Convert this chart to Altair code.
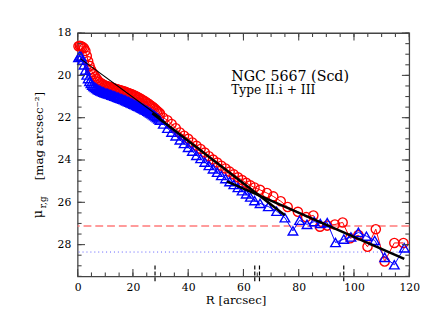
import altair as alt
import pandas as pd

FONT = "DejaVu Serif"
FRAME = "#444444"

# ---------------- data ----------------
inner_R = [0.3, 0.8, 1.3, 1.8, 2.3, 2.8, 3.3, 3.8, 4.3, 4.8, 5.3, 5.8, 6.3, 6.8, 7.3, 7.8, 8.3, 8.8, 9.3, 9.8,
           10.3, 10.8, 11.3, 11.8, 12.3, 12.8, 13.3, 13.8, 14.3, 14.8, 15.3, 15.8, 16.3, 16.8, 17.3, 17.8, 18.3, 18.8, 19.3, 19.8,
           20.3, 20.8, 21.3, 21.8, 22.3, 22.8, 23.3, 23.8, 24.3, 24.8, 25.3, 25.8, 26.3, 26.8, 27.3, 27.8, 28.3, 28.8, 29.3, 29.8,
           31, 32.5, 34, 35.5, 37, 38.5, 40, 41.5, 43, 44.5, 46, 47.5, 49, 50.5, 52, 53.5, 55, 56.5, 58, 59.5, 61, 62.5, 64]

red_R = inner_R + [66, 68.5, 70.8, 73.5, 76, 79.7, 82.7, 85.3, 87.7, 90.3, 93.1, 95.9, 98.6, 101.6, 104.9, 107.9, 111.1, 114.6, 117.9]
red_mu = [18.62, 18.60, 18.62, 18.66, 18.72, 18.85, 19.08, 19.33, 19.55, 19.72, 19.85, 19.95, 20.05, 20.15, 20.24, 20.31, 20.36, 20.40, 20.44, 20.47,
          20.50, 20.52, 20.54, 20.56, 20.58, 20.60, 20.62, 20.64, 20.66, 20.68, 20.70, 20.72, 20.74, 20.76, 20.78, 20.81, 20.83, 20.86, 20.88, 20.91,
          20.94, 20.97, 21.00, 21.04, 21.07, 21.11, 21.15, 21.19, 21.23, 21.27, 21.32, 21.36, 21.41, 21.46, 21.51, 21.56, 21.62, 21.68, 21.74, 21.80,
          22.00, 22.12, 22.30, 22.50, 22.70, 22.85, 23.00, 23.17, 23.33, 23.48, 23.65, 23.82, 23.98, 24.12, 24.27, 24.40, 24.55, 24.68, 24.82, 24.95, 25.08, 25.20, 25.30,
          25.41, 25.56, 25.72, 25.95, 26.22, 26.45, 26.70, 26.62, 27.15, 27.10, 27.05, 26.95, 27.70, 27.55, 28.10, 27.27, 28.80, 27.92, 27.92]

blue_R = inner_R + [66, 69, 72, 75, 77.9, 80.3, 83, 85.6, 87.8, 90.3, 93.3, 96.3, 98.9, 101.6, 104.5, 107.5, 111.1, 114.6, 118.2]
blue_mu = [19.15, 19.08, 19.12, 19.28, 19.50, 19.75, 19.98, 20.15, 20.28, 20.38, 20.46, 20.52, 20.57, 20.62, 20.66, 20.70, 20.73, 20.76, 20.79, 20.82,
           20.84, 20.86, 20.88, 20.90, 20.93, 20.95, 20.98, 21.00, 21.03, 21.05, 21.08, 21.10, 21.13, 21.15, 21.18, 21.21, 21.24, 21.27, 21.30, 21.33,
           21.36, 21.39, 21.42, 21.45, 21.48, 21.51, 21.55, 21.58, 21.62, 21.65, 21.69, 21.73, 21.77, 21.81, 21.86, 21.90, 21.95, 22.00, 22.06, 22.12,
           22.30, 22.50, 22.68, 22.86, 23.05, 23.22, 23.40, 23.58, 23.78, 23.93, 24.10, 24.26, 24.42, 24.58, 24.73, 24.88, 25.02, 25.16, 25.30, 25.45, 25.60, 25.75, 25.92,
           26.05, 26.20, 26.42, 26.73, 27.35, 26.85, 27.04, 26.91, 27.00, 26.96, 27.90, 27.74, 27.64, 27.42, 27.60, 27.80, 28.60, 28.95, 28.15]

# disc fits (start / end of each segment)
fit_seg = ["inner", "middle", "outer"]
fit_R0 = [0.96, 27.0, 54.0]
fit_R1 = [30.0, 75.0, 118.2]
fit_mu0 = [19.21, 21.79, 25.01]
fit_mu1 = [21.99, 26.61, 28.67]

break_R = [28.0, 64.1, 65.8, 96.3]       # break radii marked at the bottom
sky_red = [27.12]                          # dashed limit
sky_blue = [28.35]                         # dotted limit

x_labels = [0, 20, 40, 60, 80, 100, 120]
y_labels = [18, 20, 22, 24, 26, 28]
x_major = [0, 20, 40, 60, 80, 100, 120]
x_minor = [5 * i for i in range(25)]
y_major = [18, 20, 22, 24, 26, 28]
y_minor = [18 + 0.5 * i for i in range(24)]

title_main = "NGC 5667 (Scd)"
title_type = "Type II.i + III"
x_title = "R [arcsec]"
y_title = "[mag arcsec\u207b\u00b2]"

# ---------------- chart ----------------
W, H = 338, 248
xs = alt.Scale(domain=[0, 120], nice=False, zero=False)
ys = alt.Scale(domain=[18, 29.5], reverse=True, nice=False, zero=False)
xaxis = alt.Axis(values=x_labels, ticks=False, domain=False, grid=False, title=None,
                 labelPadding=5, labelFontSize=11, labelFont=FONT, labelColor="black",
                 labelFlush=False, labelOverlap=False, format="d")
yaxis = alt.Axis(values=y_labels, ticks=False, domain=False, grid=False, title=None,
                 labelPadding=7, labelFontSize=11, labelFont=FONT, labelColor="black",
                 labelFlush=False, labelOverlap=False, format="d")
X = alt.X("R:Q", scale=xs, axis=xaxis)
Y = alt.Y("mu:Q", scale=ys, axis=yaxis)

df_red = pd.DataFrame({"R": red_R, "mu": red_mu})
df_blue = pd.DataFrame({"R": blue_R, "mu": blue_mu})

rows = []
for s, r0, r1, m0, m1 in zip(fit_seg, fit_R0, fit_R1, fit_mu0, fit_mu1):
    rows.append({"seg": s, "R": r0, "mu": m0})
    rows.append({"seg": s, "R": r1, "mu": m1})
df_fit = pd.DataFrame(rows)

layers = []
# sky limits
layers.append(alt.Chart(pd.DataFrame({"mu": sky_red})).mark_rule(
    color="#ff7b7b", strokeWidth=1.3, strokeDash=[8, 4]).encode(y=Y))
layers.append(alt.Chart(pd.DataFrame({"mu": sky_blue})).mark_rule(
    color="#5a5aff", strokeWidth=1, strokeDash=[1, 3]).encode(y=Y))

# red profile
layers.append(alt.Chart(df_red).mark_line(color="#ff0000", strokeWidth=1).encode(x=X, y=Y))
layers.append(alt.Chart(df_red).mark_point(shape="circle", filled=False, color="#ff0000",
                                           size=88, strokeWidth=1.4, opacity=1).encode(x=X, y=Y))
# blue profile
layers.append(alt.Chart(df_blue).mark_line(color="#0000ff", strokeWidth=1).encode(x=X, y=Y))
layers.append(alt.Chart(df_blue).mark_point(shape="triangle-up", filled=False, color="#0000ff",
                                            size=95, strokeWidth=1.4, opacity=1).encode(x=X, y=Y))
# fits
layers.append(alt.Chart(df_fit).transform_filter(alt.datum.seg == "inner").mark_line(
    color="black", strokeWidth=1.1).encode(x=X, y=Y, detail="seg:N"))
layers.append(alt.Chart(df_fit).transform_filter(alt.datum.seg != "inner").mark_line(
    color="black", strokeWidth=2.6).encode(x=X, y=Y, detail="seg:N"))

# inward ticks on all four sides
def xticks(vals, length):
    d = pd.DataFrame({"R": vals})
    b = alt.Chart(d).mark_rule(color=FRAME, strokeWidth=1.1).encode(
        x=X, y=alt.value(H), y2=alt.value(H - length))
    t = alt.Chart(d).mark_rule(color=FRAME, strokeWidth=1.1).encode(
        x=X, y=alt.value(0), y2=alt.value(length))
    return [b, t]

def yticks(vals, length):
    d = pd.DataFrame({"mu": vals})
    l = alt.Chart(d).mark_rule(color=FRAME, strokeWidth=1.1).encode(
        y=Y, x=alt.value(0), x2=alt.value(length))
    r = alt.Chart(d).mark_rule(color=FRAME, strokeWidth=1.1).encode(
        y=Y, x=alt.value(W), x2=alt.value(W - length))
    return [l, r]

layers += xticks(x_minor, 4) + xticks(x_major, 7.5) + yticks(y_minor, 4) + yticks(y_major, 7.5)

# break markers
layers.append(alt.Chart(pd.DataFrame({"R": break_R})).mark_rule(
    color="black", strokeWidth=1.2, strokeDash=[4, 2]).encode(
    x=X, y=alt.value(H - 11), y2=alt.value(H + 6.5)))

# texts
def txt(s, x, y, size, angle=0, align="left", baseline="alphabetic"):
    return alt.Chart(pd.DataFrame({"t": [s]})).mark_text(
        font=FONT, fontSize=size, angle=angle, align=align, baseline=baseline, color="black"
    ).encode(x=alt.value(x), y=alt.value(y), text="t:N")

layers.append(txt(title_main, 156.5, 48.5, 14.5))
layers.append(txt(title_type, 156.5, 62, 12.5))
layers.append(txt(x_title, 161.5, 276, 12, align="center"))
layers.append(txt(y_title, -35, 105, 12, angle=270, align="center"))
layers.append(txt("\u03bc", -36, 184.5, 13, angle=270, align="center"))
layers.append(txt("r,g", -32.5, 172.5, 9, angle=270, align="center"))

chart = alt.layer(*layers).properties(
    width=W, height=H,
    padding={"left": 71, "top": 22.5, "right": 13, "bottom": 45},
    autosize=alt.AutoSizeParams(type="none"),
).configure_view(stroke=FRAME, strokeWidth=1.3)

chart.save("out.html", embed_options={"renderer": "svg", "actions": False})
